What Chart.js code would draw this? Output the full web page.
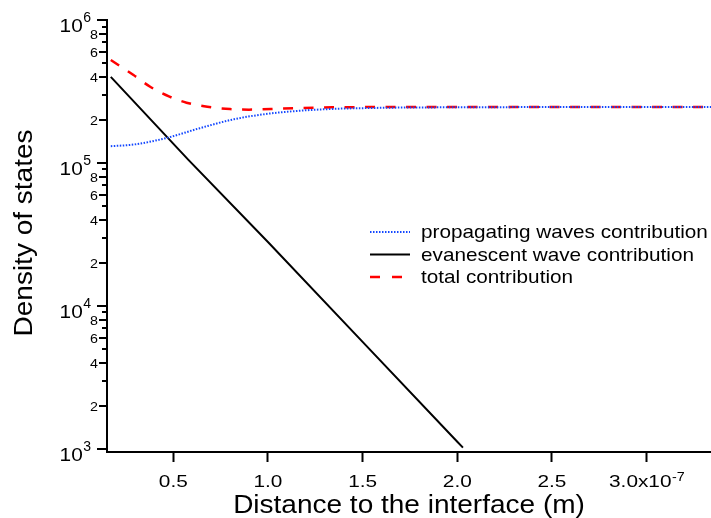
<!DOCTYPE html>
<html><head><meta charset="utf-8">
<script src="https://cdn.jsdelivr.net/npm/chart.js@4/dist/chart.umd.min.js"></script>
<style>html,body{margin:0;padding:0;background:#fff;overflow:hidden}canvas{display:block}</style>
</head><body>
<canvas id="c" width="711" height="518"></canvas>
<script>
// ---- data ----
const seriesLabels = ['propagating waves contribution', 'evanescent wave contribution', 'total contribution'];
const propX = [0.17e-7, 0.29e-7, 0.46e-7, 0.64e-7, 0.82e-7, 0.99e-7, 1.17e-7, 1.35e-7, 1.52e-7, 1.70e-7, 2.0e-7, 2.5e-7, 3.0e-7, 3.34e-7];
const propY = [1.31e5, 1.345e5, 1.49e5, 1.75e5, 2.02e5, 2.20e5, 2.32e5, 2.39e5, 2.42e5, 2.44e5, 2.45e5, 2.46e5, 2.46e5, 2.46e5];
const evanX = [0.17e-7, 0.58e-7, 1.0e-7, 1.5e-7, 2.0e-7, 2.03e-7];
const evanY = [4.0e5, 1.05e5, 2.8e4, 5.6e3, 1.12e3, 1.02e3];
const totX = [0.17e-7, 0.29e-7, 0.38e-7, 0.48e-7, 0.57e-7, 0.68e-7, 0.80e-7, 0.90e-7, 1.08e-7, 1.24e-7, 1.34e-7, 1.70e-7, 2.0e-7, 2.5e-7, 3.0e-7, 3.34e-7];
const totY = [5.25e5, 4.12e5, 3.40e5, 2.91e5, 2.64e5, 2.47e5, 2.38e5, 2.36e5, 2.40e5, 2.43e5, 2.45e5, 2.46e5, 2.46e5, 2.46e5, 2.46e5, 2.46e5];

const xTickValues = [0.5e-7, 1.0e-7, 1.5e-7, 2.0e-7, 2.5e-7, 3.0e-7];
const xTickLabels = ['0.5', '1.0', '1.5', '2.0', '2.5', '3.0x10'];
const xTickSups   = ['', '', '', '', '', '-7'];
const yMajorValues = [1e3, 1e4, 1e5, 1e6];
const yMajorBase   = ['10', '10', '10', '10'];
const yMajorSups   = ['3', '4', '5', '6'];
const yMinorValues = [2e3, 3e3, 4e3, 5e3, 6e3, 7e3, 8e3, 9e3,
                      2e4, 3e4, 4e4, 5e4, 6e4, 7e4, 8e4, 9e4,
                      2e5, 3e5, 4e5, 5e5, 6e5, 7e5, 8e5, 9e5];
const yMinorLabels = ['2', '', '4', '', '6', '', '8', '',
                      '2', '', '4', '', '6', '', '8', '',
                      '2', '', '4', '', '6', '', '8', ''];
const xTitle = 'Distance to the interface (m)';
const yTitle = 'Density of states';
const xMin = 0.15e-7, xMax = 3.34e-7, yMin = 950, yMax = 1e6;

// ---- drawing helpers ----
const FONT = '"Liberation Sans", Arial, Helvetica, sans-serif';
function tw(ctx, s, size, sx) { ctx.font = size + 'px ' + FONT; return ctx.measureText(s).width * sx; }
function txt(ctx, s, x, y, size, align, sx) {
  ctx.save();
  ctx.font = size + 'px ' + FONT;
  ctx.fillStyle = '#000';
  ctx.textBaseline = 'alphabetic';
  ctx.textAlign = align || 'left';
  ctx.translate(x, y);
  ctx.scale(sx, 1);
  ctx.fillText(s, 0, 0);
  ctx.restore();
}

const decor = {
  id: 'decor',
  afterDraw(chart) {
    const ctx = chart.ctx, xs = chart.scales.x, ys = chart.scales.y, ca = chart.chartArea;
    const axX = ca.left;
    ctx.save();
    ctx.strokeStyle = '#000';
    ctx.lineWidth = 2;
    yMajorValues.forEach(v => {
      const p = Math.round(ys.getPixelForValue(v));
      ctx.beginPath(); ctx.moveTo(axX - 10, p); ctx.lineTo(axX, p); ctx.stroke();
    });
    yMinorValues.forEach((v, i) => {
      const p = Math.round(ys.getPixelForValue(v));
      const len = yMinorLabels[i] ? 8 : 5;
      ctx.beginPath(); ctx.moveTo(axX - len, p); ctx.lineTo(axX, p); ctx.stroke();
    });
    ctx.restore();
    // y labels
    yMajorValues.forEach((v, i) => {
      const p = ys.getPixelForValue(v);
      const supW = tw(ctx, yMajorSups[i], 14, 1.0);
      const xEnd = axX - 16;
      txt(ctx, yMajorSups[i], xEnd - supW, p + 2, 14, 'left', 1.0);
      txt(ctx, yMajorBase[i], xEnd - supW - 0.5, p + 12, 17.5, 'right', 1.19);
    });
    yMinorValues.forEach((v, i) => {
      if (!yMinorLabels[i]) return;
      const p = ys.getPixelForValue(v);
      txt(ctx, yMinorLabels[i], axX - 9, p + 5, 13, 'right', 1.1);
    });
    // x labels
    xTickValues.forEach((v, i) => {
      const p = xs.getPixelForValue(v);
      const bw = tw(ctx, xTickLabels[i], 16, 1.3);
      const sw = xTickSups[i] ? tw(ctx, xTickSups[i], 13, 1.1) : 0;
      const x0 = p - (bw + sw) / 2;
      txt(ctx, xTickLabels[i], x0, ca.bottom + 35, 16, 'left', 1.3);
      if (sw) txt(ctx, xTickSups[i], x0 + bw + 0.5, ca.bottom + 29, 13, 'left', 1.1);
    });
    // axis titles
    txt(ctx, xTitle, (ca.left + ca.right) / 2, ca.bottom + 61, 25, 'center', 1.12);
    ctx.save();
    ctx.translate(32, (ca.top + ca.bottom) / 2 - 3);
    ctx.rotate(-Math.PI / 2);
    txt(ctx, yTitle, 0, 0, 25, 'center', 1.12);
    ctx.restore();
    // legend
    const rows = [232, 254.5, 277];
    chart.data.datasets.forEach((ds, i) => {
      const y = rows[i];
      ctx.save();
      ctx.strokeStyle = ds.borderColor;
      ctx.lineWidth = ds.borderWidth;
      ctx.setLineDash(ds.legendDash || ds.borderDash || []);
      ctx.beginPath(); ctx.moveTo(370, y); ctx.lineTo(i === 2 ? 402 : 410, y); ctx.stroke();
      ctx.restore();
      txt(ctx, ds.label, 421, y + 6, 18.5, 'left', 1.12);
    });
  }
};

const pts = (xa, ya) => xa.map((x, i) => ({ x: x, y: ya[i] }));

new Chart(document.getElementById('c'), {
  type: 'line',
  data: {
    datasets: [
      { label: seriesLabels[0], data: pts(propX, propY), borderColor: '#1448ff', borderWidth: 2,
        borderDash: [1.5, 1.5], pointRadius: 0, cubicInterpolationMode: 'monotone', fill: false },
      { label: seriesLabels[1], data: pts(evanX, evanY), borderColor: '#000000', borderWidth: 2,
        pointRadius: 0, tension: 0, fill: false },
      { label: seriesLabels[2], data: pts(totX, totY), borderColor: '#ff0000', borderWidth: 2.5,
        borderDash: [10, 10.5], legendDash: [10, 12], pointRadius: 0, cubicInterpolationMode: 'monotone', fill: false }
    ]
  },
  options: {
    responsive: false, animation: false, devicePixelRatio: 1,
    layout: { padding: { top: 20, right: 0, left: 0, bottom: 0 } },
    plugins: { legend: { display: false }, tooltip: { enabled: false } },
    scales: {
      x: {
        type: 'linear', min: xMin, max: xMax,
        afterBuildTicks: s => { s.ticks = xTickValues.map(v => ({ value: v })); },
        ticks: { display: false },
        grid: { drawOnChartArea: false, drawTicks: true, tickLength: 10, tickWidth: 2, tickColor: '#000' },
        border: { display: true, color: '#000', width: 2 },
        afterFit: s => { s.height = 66; }
      },
      y: {
        type: 'logarithmic', min: yMin, max: yMax,
        afterBuildTicks: s => { s.ticks = yMajorValues.map(v => ({ value: v })); },
        ticks: { display: false },
        grid: { display: false },
        border: { display: true, color: '#000', width: 2 },
        afterFit: s => { s.width = 107; }
      }
    }
  },
  plugins: [decor]
});
</script>
</body></html>
